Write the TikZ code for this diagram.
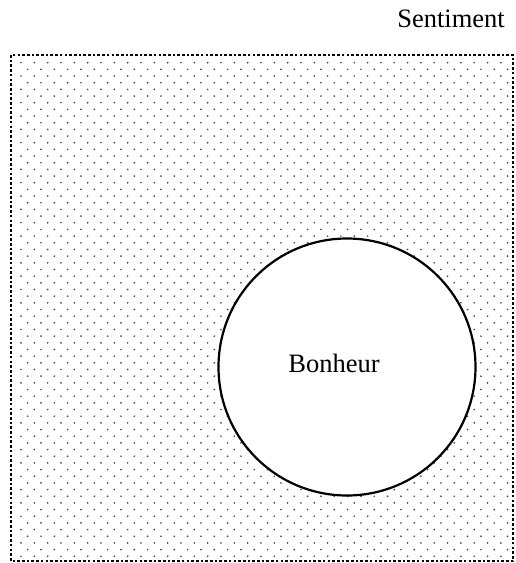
\documentclass[tikz,border=0pt]{standalone}
\usepackage{fontspec}
\setmainfont{Liberation Serif}
\usetikzlibrary{positioning}

\begin{document}
\begin{tikzpicture}[
    x=1pt, y=-1pt,
    frame/.style = {draw=black, line width=2.6pt, dash pattern=on 2.6pt off 2.1pt},
    speck/.style = {fill=black!70},
    ring/.style = {circle, draw=black, line width=2.2pt, fill=white, inner sep=0pt, minimum size=257pt},
    word/.style = {font=\fontsize{26.5}{30}\selectfont, inner sep=0pt, anchor=base}
]
\useasboundingbox (0,0) rectangle (516,563);

% Title
\node (sentiment) [word] at (451,27) {Sentiment};

% Dotted field
\begin{scope}
  \clip (11,55) rectangle (513,561);
  \foreach \r in {0,...,74}{
    \pgfmathsetmacro{\xo}{mod(\r,2)==0 ? 21 : 27.67}
    \foreach \c in {0,...,37}{
      \fill [speck] (\xo+\c*13.33, 62.7+\r*6.67) circle[radius=0.95pt];
    }
  }
\end{scope}
\draw [frame] (11,55) rectangle (513,561);

% Circle
\node (bonheur) [ring] at (347,367) {};
\node (bonheurtxt) [word] at (334,372) {Bonheur};

\end{tikzpicture}
\end{document}
